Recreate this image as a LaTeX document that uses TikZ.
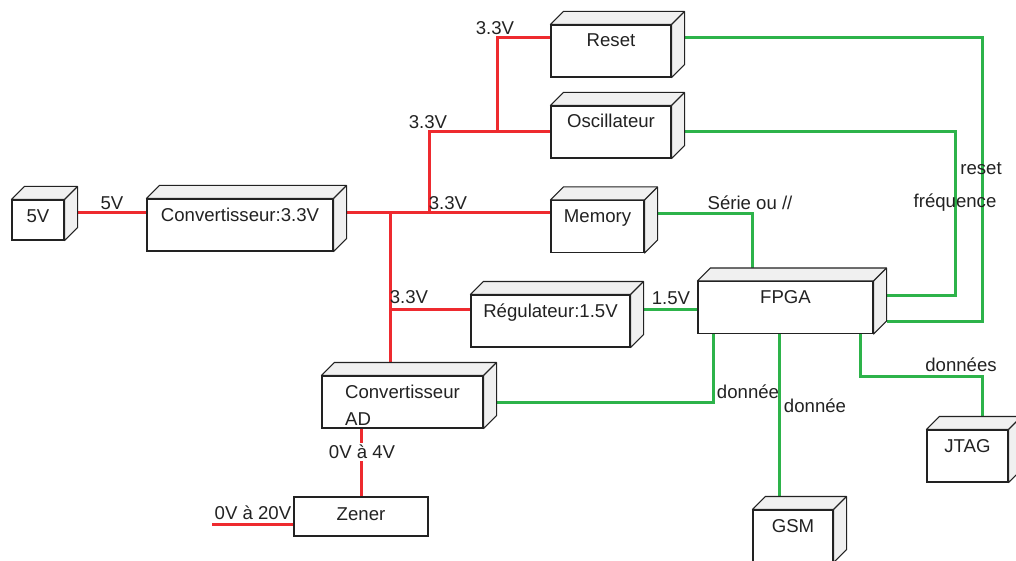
\documentclass[tikz,border=0pt]{standalone}
\usepackage{fontspec}
\setmainfont{Liberation Sans}
\definecolor{pwr}{HTML}{EE2A2F}
\definecolor{sig}{HTML}{2DB34A}
\definecolor{ink}{HTML}{222222}
\tikzset{
  block/.style={draw=ink, fill=white, line width=0.55pt, inner xsep=2pt, inner ysep=0pt, text=ink},
  unit/.style={block, text height=11pt, text depth=15pt},
  face/.style={draw=ink, fill=black!6, line width=0.55pt, line join=round},
  power/.style={draw=pwr, line width=1.5pt},
  signal/.style={draw=sig, line width=1.5pt},
  tag/.style={inner sep=1pt, text=ink}
}
\begin{document}
\begin{tikzpicture}[x=0.5pt, y=-0.5pt, font=\fontsize{9.3}{13.5}\selectfont]
	\def\dd{6.5pt}
	\useasboundingbox (0,0) rectangle (1016,561);
	
	% Blocks (front faces)
	\node[unit, minimum width=26pt, text depth=9pt] (src) at (38,220) {5V};
	\node[unit, minimum width=93pt] (conv) at (240,225) {Convertisseur:3.3V};
	\node[unit, minimum width=60pt] (reset) at (611,51) {Reset};
	\node[unit, minimum width=60pt] (osc) at (611,132) {Oscillateur};
	\node[unit, minimum width=46.5pt] (mem) at (597.5,226.5) {Memory};
	\node[unit, minimum width=79.5pt] (reg) at (550.5,321) {Régulateur:1.5V};
	\node[unit, minimum width=87.5pt] (fpga) at (785.5,307.5) {FPGA};
	\node[block, minimum width=80.5pt, text height=24.5pt, text depth=1.5pt, align=left] (cad) at (402.5,402) {Convertisseur\\AD};
	\node[unit, minimum width=40.5pt] (jtag) at (967.5,456) {JTAG};
	\node[unit, minimum width=40pt] (gsm) at (793,536) {GSM};
	\node[unit, minimum width=67pt, text height=11.5pt, text depth=8pt] (zener) at (361,516.5) {Zener};
	
	% Taps on the 3.3V bus
	\coordinate (tapa) at (429,213);
	\coordinate (tapb) at (390,213);
	\coordinate (tapc) at (497,133);
	\coordinate (tapd) at (390,309);
	\coordinate (vin) at (212,524);
	
	% Power lines
	\draw[power] ([shift={(\dd,3.5pt)}]src.east) coordinate (p) -- (p -| conv.west);
	\draw[power] ([shift={(\dd,6pt)}]conv.east) coordinate (bus) -- (bus -| mem.west);
	\draw[power] (tapa) |- (osc.west);
	\draw[power] (tapc) |- ([yshift=6.5pt]reset.west);
	\draw[power] (tapb) -- (tapb |- cad.north);
	\draw[power] (tapd) -- (tapd -| reg.west);
	\draw[power] (zener.north) -- (zener.north |- cad.south);
	\draw[power] (vin) -- (vin -| zener.west);
	
	% Signal lines
	\coordinate (rstcorner) at (982,321);
	\coordinate (frqcorner) at (955,295);
	\coordinate (jtgcorner) at (982,376);
	\draw[signal] ([shift={(\dd,6pt)}]reg.east) coordinate (q) -- (q -| fpga.west);
	\draw[signal] ([shift={(\dd,6.25pt)}]mem.east) -| ([xshift=-16.75pt]fpga.north);
	\draw[signal] ([shift={(\dd,6.5pt)}]reset.east) -| (rstcorner) |- ([shift={(\dd,-6.75pt)}]fpga.east);
	\draw[signal] ([xshift=\dd]osc.east) -| (frqcorner) |- ([shift={(\dd,6.25pt)}]fpga.east);
	\draw[signal] ([xshift=-36.25pt]fpga.south) |- ([xshift=\dd]cad.east);
	\draw[signal] ([xshift=-3.25pt]fpga.south) coordinate (g) -- (g |- gsm.north);
	\draw[signal] ([xshift=37.25pt]fpga.south) |- (jtgcorner) -- (jtgcorner |- jtag.north);
	
	% Depth faces of the boxes
	\foreach \n in {src,conv,reset,osc,mem,reg,fpga,cad,jtag,gsm}{
		\filldraw[face] (\n.north west) -- ++(\dd,\dd) -- ([shift={(\dd,\dd)}]\n.north east)
			-- ([shift={(\dd,\dd)}]\n.south east) -- (\n.south east) -- (\n.north east) -- cycle;
		\draw[face] (\n.north east) -- ++(\dd,\dd);
	}
	
	% Line labels
	\node[tag] (l5v) at (112,203) {5V};
	\node[tag] (lrst) at (495,28) {3.3V};
	\node[tag] (losc) at (428,122) {3.3V};
	\node[tag] (lmem) at (448,203) {3.3V};
	\node[tag] (lreg) at (409,297) {3.3V};
	\node[tag] (lcore) at (671,298) {1.5V};
	\node[tag] (lbus) at (750,203) {Série ou //};
	\node[tag] (lreset) at (981,169) {reset};
	\node[tag] (lfreq) at (955,203) {fréquence};
	\node[tag] (ljtag) at (961,365) {données};
	\node[tag] (lcad) at (748,392) {donnée};
	\node[tag] (lgsm) at (815,406) {donnée};
	\node[tag, fill=white] (lzin) at (362,452) {0V à 4V};
	\node[tag] (lvin) at (253,513) {0V à 20V};
\end{tikzpicture}
\end{document}
